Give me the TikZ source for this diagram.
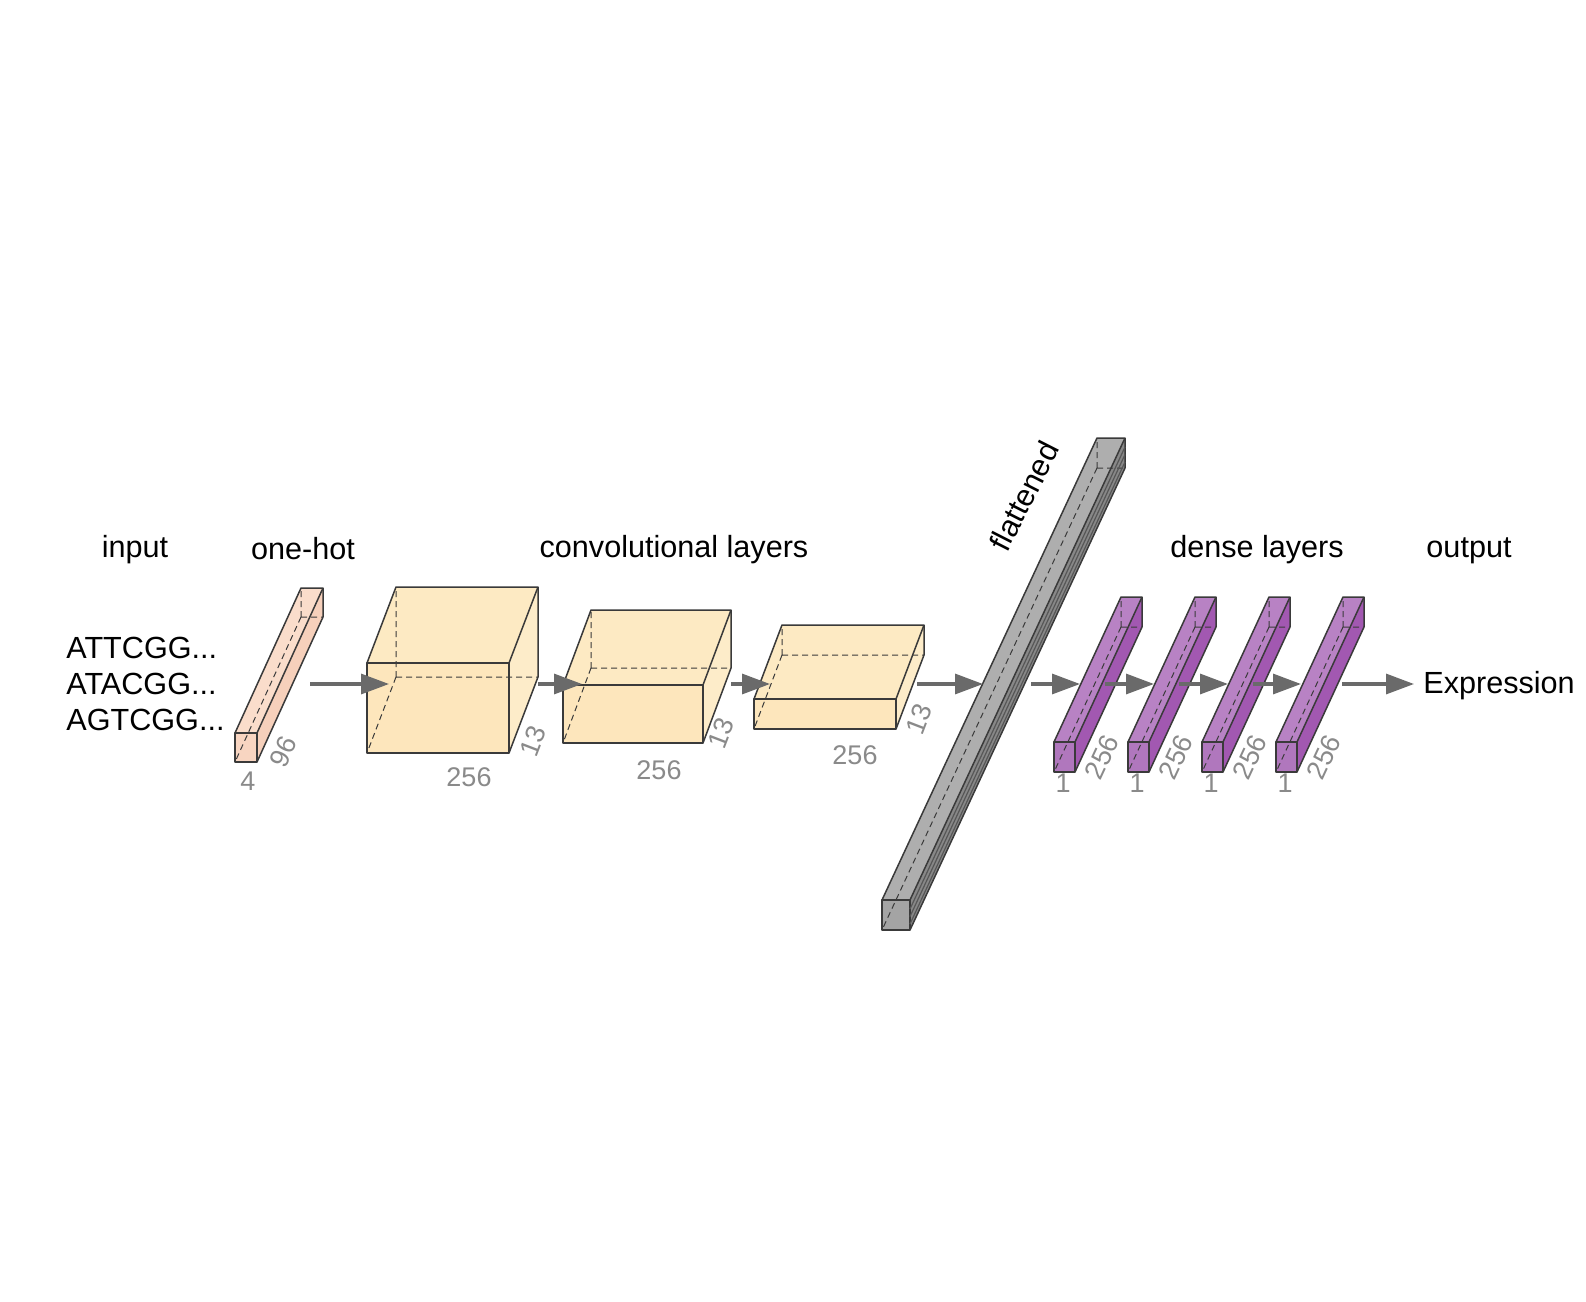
\documentclass[tikz,border=0pt]{standalone}
\usepackage{fontspec}
\setmainfont{Liberation Sans}
\usetikzlibrary{arrows.meta}
\definecolor{edgec}{HTML}{3A3A3A}
\definecolor{ohfront}{HTML}{F8D5C1}
\definecolor{ohtop}{HTML}{FADDCB}
\definecolor{ohside}{HTML}{F6D0BB}
\definecolor{cvfront}{HTML}{FDE6BC}
\definecolor{cvtop}{HTML}{FDEAC3}
\definecolor{cvside}{HTML}{FDECC9}
\definecolor{flfront}{HTML}{A4A4A4}
\definecolor{fltop}{HTML}{AEAEAE}
\definecolor{flside}{HTML}{888888}
\definecolor{dnfront}{HTML}{B077BD}
\definecolor{dntop}{HTML}{B882C4}
\definecolor{dnside}{HTML}{A258B1}
\definecolor{arrowc}{HTML}{6A6A6A}
\definecolor{numc}{HTML}{8A8A8A}
\tikzset{
  edge/.style={draw=edgec, line width=0.75pt, line join=round},
  hidden/.style={draw=edgec, line width=0.5pt, dash pattern=on 3pt off 2pt},
  flow/.style={draw=arrowc, line width=1.6pt, -{Triangle[length=14pt,width=10pt]}},
  lbl/.style={font=\fontsize{15.3pt}{18pt}\selectfont, text=black, inner sep=0pt},
  num/.style={font=\fontsize{13.5pt}{16pt}\selectfont, text=numc, inner sep=0pt},
}
% #1 x, #2 y (front bottom-left), #3 w, #4 h, #5 dx, #6 dy, #7 front, #8 top, #9 side
\newcommand\drawcuboid[9]{%
  \fill[#7] (#1,#2) rectangle ({#1+#3},{#2-#4});
  \fill[#8] (#1,{#2-#4}) -- ({#1+#3},{#2-#4}) -- ({#1+#3+#5},{#2-#4+#6}) -- ({#1+#5},{#2-#4+#6}) -- cycle;
  \fill[#9] ({#1+#3},#2) -- ({#1+#3+#5},{#2+#6}) -- ({#1+#3+#5},{#2-#4+#6}) -- ({#1+#3},{#2-#4}) -- cycle;
  \path[hidden] ({#1+#5},{#2+#6}) -- (#1,#2)
                ({#1+#5},{#2+#6}) -- ({#1+#5},{#2-#4+#6})
                ({#1+#5},{#2+#6}) -- ({#1+#3+#5},{#2+#6});
  \path[edge] (#1,#2) rectangle ({#1+#3},{#2-#4});
  \path[edge] (#1,{#2-#4}) -- ({#1+#5},{#2-#4+#6}) -- ({#1+#3+#5},{#2-#4+#6}) -- ({#1+#3},{#2-#4});
  \path[edge] ({#1+#3+#5},{#2-#4+#6}) -- ({#1+#3+#5},{#2+#6}) -- ({#1+#3},#2);
}
\begin{document}
\begin{tikzpicture}[x=0.5pt,y=-0.5pt]
\useasboundingbox (0,0) rectangle (1586,1302);
\fill[white] (0,0) rectangle (1586,1302);

% labels
\node[lbl,anchor=base] (input) at (135,557) {input};
\node[lbl,anchor=base] (onehot) at (303,559) {one-hot};
\node[lbl,anchor=base] (convl) at (674,557) {convolutional layers};
\node[lbl,anchor=base] (densel) at (1257,557) {dense layers};
\node[lbl,anchor=base] (outputl) at (1469,557) {output};
\node[lbl,anchor=base west] (seqa) at (66,658) {ATTCGG...};
\node[lbl,anchor=base west] (seqb) at (66,694) {ATACGG...};
\node[lbl,anchor=base west] (seqc) at (66,730) {AGTCGG...};

% one-hot
\drawcuboid{235}{762}{22}{29}{66}{-145}{ohfront}{ohtop}{ohside}
\node[num] (n4) at (248,781) {4};
\node[num,rotate=65] (n96) at (283,752) {96};

% convolutional layers
\drawcuboid{367}{753}{142}{90}{29}{-76}{cvfront}{cvtop}{cvside}
\node[num] (c1w) at (469,777) {256};
\node[num,rotate=69] (c1d) at (533,741) {13};
\drawcuboid{563}{743}{140}{58}{28}{-75}{cvfront}{cvtop}{cvside}
\node[num] (c2w) at (659,770) {256};
\node[num,rotate=69] (c2d) at (721,733) {13};
\drawcuboid{754}{729}{142}{30}{28}{-74}{cvfront}{cvtop}{cvside}
\node[num] (c3w) at (855,755) {256};
\node[num,rotate=69] (c3d) at (919,719) {13};

% flattened
\drawcuboid{882}{930}{28}{30}{215}{-462}{flfront}{fltop}{flside}
\foreach \f in {0.3,0.55,0.8}{
  \draw[edgec!85, line width=0.6pt] (910,{900+30*\f}) -- (1125,{438+30*\f});
}
\node[lbl,rotate=63] (flat) at (1024,496) {flattened};

% dense layers
\foreach \i/\xx in {0/1054,1/1128,2/1202,3/1276}{
  \drawcuboid{\xx}{772}{21}{30}{67}{-145}{dnfront}{dntop}{dnside}
  \node[num] (d1\i) at ({\xx+9},783) {1};
  \node[num,rotate=65] (d2\i) at ({\xx+48},757) {256};
}

% arrows
\coordinate (a1s) at (310,684); \coordinate (a1e) at (389,684);
\coordinate (a2s) at (538,684); \coordinate (a2e) at (582,684);
\coordinate (a3s) at (731,684); \coordinate (a3e) at (770,684);
\coordinate (a4s) at (917,684); \coordinate (a4e) at (983,684);
\coordinate (a5s) at (1031,684); \coordinate (a5e) at (1080,684);
\coordinate (a6s) at (1105,684); \coordinate (a6e) at (1154,684);
\coordinate (a7s) at (1179,684); \coordinate (a7e) at (1228,684);
\coordinate (a8s) at (1253,684); \coordinate (a8e) at (1301,684);
\coordinate (a9s) at (1342,684); \coordinate (a9e) at (1414,684);
\node[lbl,anchor=base west] (expr) at (1423,693) {Expression};
\foreach \k in {1,...,9}{ \draw[flow] (a\k s) -- (a\k e); }
\end{tikzpicture}
\end{document}
